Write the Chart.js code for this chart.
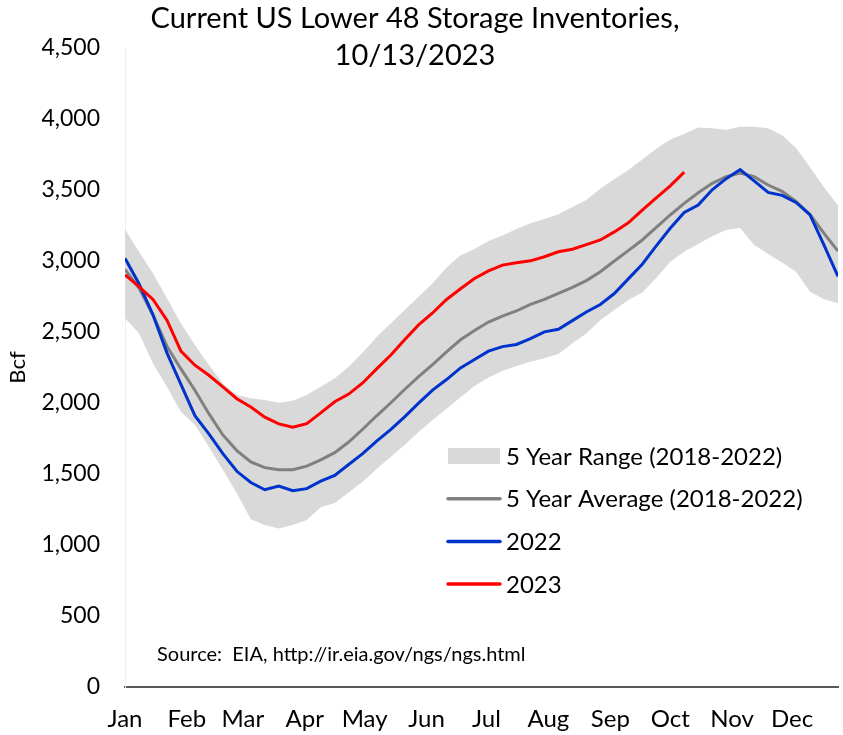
<!DOCTYPE html>
<html>
<head>
<meta charset="utf-8">
<script src="https://cdn.jsdelivr.net/npm/chart.js@4.4.0/dist/chart.umd.min.js"></script>
<style>
  html, body { margin: 0; padding: 0; background: #ffffff; }
  #wrap { width: 843px; height: 735px; position: relative; }
</style>
</head>
<body>
<div id="wrap"><canvas id="c" width="843" height="735"></canvas></div>
<script>
// ---------------- data (weekly, Bcf) ----------------
const titleLines = ['Current US Lower 48 Storage Inventories,', '10/13/2023'];
const sourceNote = 'Source:  EIA, http://ir.eia.gov/ngs/ngs.html';
const monthLabels = ['Jan','Feb','Mar','Apr','May','Jun','Jul','Aug','Sep','Oct','Nov','Dec'];
const monthStartDay = [0,31,59,90,120,151,181,212,243,273,304,334];
const yTicks = [0,500,1000,1500,2000,2500,3000,3500,4000,4500];

const range5yMax = [3223,3066,2913,2737,2561,2408,2268,2138,2056,2033,2021,2002,2015,2056,2115,2174,
  2255,2355,2465,2560,2655,2749,2843,2955,3040,3085,3140,3180,3225,3265,3295,3330,3380,3430,3510,3575,
  3641,3715,3790,3855,3895,3940,3935,3925,3945,3945,3935,3885,3795,3660,3520,3390];
const range5yMin = [2596,2491,2279,2115,1939,1845,1692,1528,1364,1181,1141,1117,1141,1176,1265,1295,
  1370,1446,1535,1620,1705,1795,1880,1960,2040,2120,2180,2225,2260,2290,2315,2345,2420,2490,2585,2655,
  2725,2778,2880,2995,3065,3120,3175,3218,3232,3113,3049,2990,2925,2784,2730,2702];
const avg5y = [2941,2810,2620,2400,2240,2090,1925,1775,1665,1585,1545,1530,1530,1555,1600,1650,
  1725,1815,1910,2000,2095,2185,2270,2360,2445,2510,2570,2612,2648,2695,2730,2772,2815,2862,2925,3000,
  3073,3148,3237,3324,3406,3481,3547,3594,3620,3594,3535,3490,3420,3328,3195,3070];
const stock2022 = [3019,2840,2621,2353,2131,1911,1782,1643,1519,1440,1389,1415,1382,1397,1450,1490,
  1567,1643,1732,1812,1902,1999,2091,2165,2247,2307,2365,2397,2412,2453,2501,2519,2580,2641,2694,2771,
  2874,2977,3106,3231,3342,3394,3501,3580,3644,3564,3483,3462,3412,3325,3112,2891];
const stock2023 = [2902,2820,2729,2583,2366,2266,2195,2114,2030,1972,1900,1853,1830,1855,1930,2009,
  2063,2141,2240,2336,2446,2550,2634,2729,2805,2877,2930,2971,2987,3001,3030,3065,3083,3115,3148,3205,
  3269,3359,3445,3529,3626];

// ---------------- chart ----------------
const FONT = 'Lato, "Liberation Sans", sans-serif';
const toXY = arr => arr.map((v, i) => ({ x: i, y: v }));

const COL = { range: '#d9d9d9', avg: '#808080', y2022: '#0033cc', y2023: '#ff0000' };

const datasets = [
  { label: '2023', data: toXY(stock2023), borderColor: COL.y2023, borderWidth: 3, pointRadius: 0, fill: false, tension: 0 },
  { label: '2022', data: toXY(stock2022), borderColor: COL.y2022, borderWidth: 3, pointRadius: 0, fill: false, tension: 0 },
  { label: '5 Year Average (2018-2022)', data: toXY(avg5y), borderColor: COL.avg, borderWidth: 3, pointRadius: 0, fill: false, tension: 0 },
  { label: '5 Year Range (2018-2022)', data: toXY(range5yMax), borderWidth: 0, borderColor: 'rgba(0,0,0,0)', backgroundColor: COL.range, pointRadius: 0, fill: '+1', tension: 0 },
  { label: 'range-min', data: toXY(range5yMin), borderWidth: 0, borderColor: 'rgba(0,0,0,0)', pointRadius: 0, fill: false, tension: 0 }
];

const legendItems = [
  { text: '5 Year Range (2018-2022)', type: 'box', color: COL.range },
  { text: '5 Year Average (2018-2022)', type: 'line', color: COL.avg },
  { text: '2022', type: 'line', color: COL.y2022 },
  { text: '2023', type: 'line', color: COL.y2023 }
];

const overlayPlugin = {
  id: 'overlay',
  afterDraw(chart) {
    const ctx = chart.ctx;
    ctx.save();
    // title
    ctx.fillStyle = '#000';
    ctx.textAlign = 'center';
    ctx.textBaseline = 'middle';
    ctx.font = '29px ' + FONT;
    ctx.fillText(titleLines[0], 415, 19);
    ctx.fillText(titleLines[1], 415, 56);
    // legend
    ctx.textAlign = 'left';
    ctx.font = '24px ' + FONT;
    legendItems.forEach((it, i) => {
      const cy = 456 + i * 42.7;
      if (it.type === 'box') {
        ctx.fillStyle = it.color;
        ctx.fillRect(448, cy - 8, 52, 16);
      } else {
        ctx.strokeStyle = it.color;
        ctx.lineWidth = 3.5;
        ctx.lineCap = 'round';
        ctx.beginPath();
        ctx.moveTo(448, cy);
        ctx.lineTo(500, cy);
        ctx.stroke();
      }
      ctx.fillStyle = '#000';
      ctx.fillText(it.text, 506, cy + 1);
    });
    // source note
    ctx.font = '20px ' + FONT;
    ctx.fillText(sourceNote, 157, 655);
    ctx.restore();
  }
};

new Chart(document.getElementById('c'), {
  type: 'line',
  data: { datasets },
  options: {
    responsive: false,
    animation: false,
    events: [],
    layout: { padding: { top: 48, right: 5, bottom: 0, left: 0 } },
    plugins: { legend: { display: false }, title: { display: false }, tooltip: { enabled: false } },
    scales: {
      x: {
        type: 'linear',
        min: 0,
        max: 51,
        grid: { display: false, drawTicks: false },
        border: { display: true, color: '#595959', width: 2 },
        afterBuildTicks: s => { s.ticks = monthStartDay.map(d => ({ value: d / 7 })); },
        afterFit: s => { s.height = 48; },
        ticks: {
          autoSkip: false,
          maxRotation: 0,
          padding: 18,
          color: '#000',
          font: { family: FONT, size: 24 },
          callback: (v, i) => monthLabels[i]
        }
      },
      y: {
        min: 0,
        max: 4500,
        grid: { display: false, drawTicks: false },
        border: { display: true, color: '#eeeeee', width: 1 },
        afterBuildTicks: s => { s.ticks = yTicks.map(v => ({ value: v })); },
        afterFit: s => { s.width = 125; },
        title: { display: true, text: 'Bcf', color: '#000', font: { family: FONT, size: 22 }, padding: { top: 5, bottom: 0 } },
        ticks: {
          padding: 25,
          color: '#000',
          font: { family: FONT, size: 23 },
          callback: v => v.toLocaleString('en-US')
        }
      }
    }
  },
  plugins: [overlayPlugin]
});
</script>
</body>
</html>
